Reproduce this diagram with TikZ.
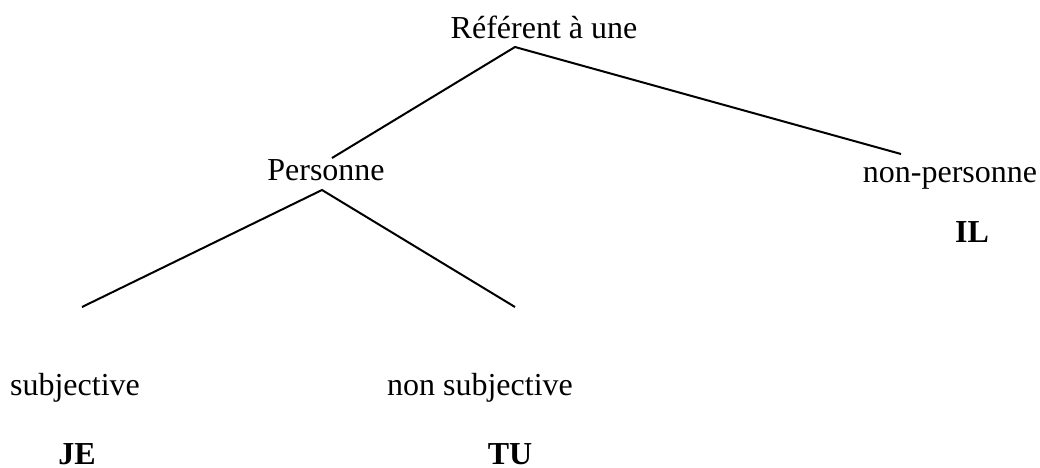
\documentclass[tikz,border=0pt]{standalone}
\usepackage{fontspec}
\setmainfont{Liberation Serif}
\usetikzlibrary{positioning}

\begin{document}
\begin{tikzpicture}[x=0.375bp, y=-0.375bp,
        label/.style={inner sep=0pt, anchor=base, font=\fontsize{12bp}{14bp}\selectfont},
        pron/.style={label, font=\fontsize{12bp}{14bp}\selectfont\bfseries},
        branch/.style={draw=black, line width=0.75bp}]
        \useasboundingbox (0,0) rectangle (1040,468);

        \node [label] (ref) at (544,38) {Référent à une};
        \node [label] (pers) at (326,180) {Personne};
        \node [label] (nonpers) at (950,182) {non-personne};
        \node [pron] (il) at (972,242) {IL};
        \node [label] (subj) at (75,395) {subjective};
        \node [label] (nonsubj) at (480,395) {non subjective};
        \node [pron] (je) at (77,464) {JE};
        \node [pron] (tu) at (510,464) {TU};

        \coordinate (reftop) at (515,47);
        \coordinate (perstip) at (332,158);
        \coordinate (nonperstip) at (901,154);
        \coordinate (perstop) at (322,190);
        \coordinate (subjtip) at (82,307);
        \coordinate (nonsubjtip) at (515,307);

        \path [branch] (perstip) -- (reftop) -- (nonperstip);
        \path [branch] (subjtip) -- (perstop) -- (nonsubjtip);
    \end{tikzpicture}
\end{document}
